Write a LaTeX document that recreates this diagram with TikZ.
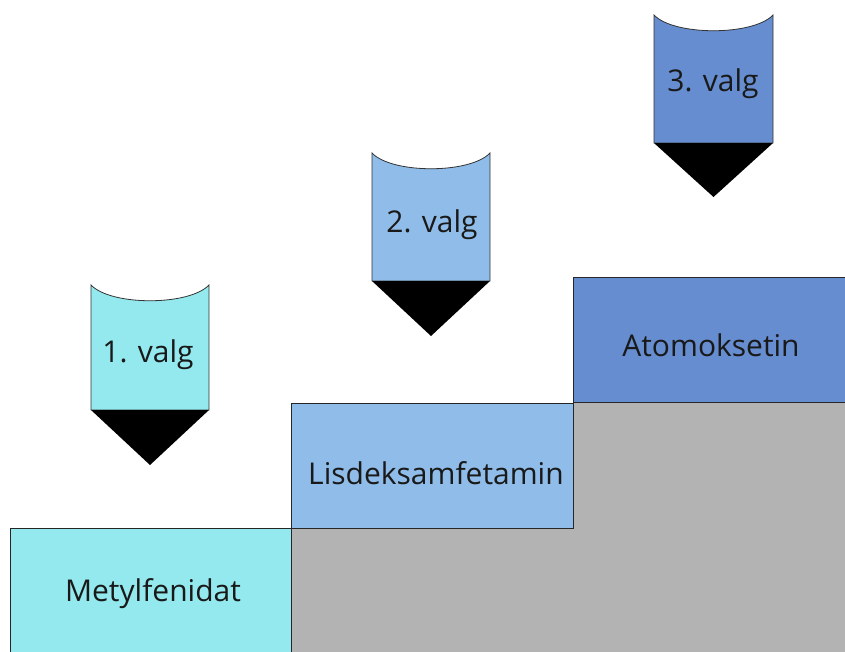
\documentclass[tikz,border=0pt]{standalone}
\usepackage{fontspec}
\setmainfont{Open Sans}
\definecolor{cyanc}{RGB}{147,233,238}
\definecolor{lblue}{RGB}{143,188,232}
\definecolor{dblue}{RGB}{102,141,207}
\definecolor{grayc}{RGB}{179,179,179}
\begin{document}
\begin{tikzpicture}[x=1pt,y=-1pt,
  stepbox/.style={draw=black!85,line width=0.9pt},
  arrbody/.style={draw=black!80,line width=0.8pt},
  lbl/.style={font=\fontsize{30}{34}\selectfont,text=black!90,inner sep=0pt}]
\useasboundingbox (0,0) rectangle (845,651);
% gray base
\fill[grayc,stepbox] (291,528) -- (573,528) -- (573,402) -- (845,402) -- (845,660) -- (291,660) -- cycle;
% steps
\draw[stepbox,fill=cyanc] (10,528) rectangle (291,660);
\draw[stepbox,fill=lblue] (291,403) rectangle (573,528);
\draw[stepbox,fill=dblue] (573,277) rectangle (845,402);
\node[lbl] (s1) at (153,594) {Metylfenidat};
\node[lbl] (s2) at (436,473) {Lisdeksamfetamin};
\node[lbl] (s3) at (711,345) {Atomoksetin};
% arrows
\newcommand{\valgarrow}[6]{% x-left, x-right, top, bottom, tip, colour
  \draw[arrbody,fill=#6] (#1,#3) .. controls ({#1+20},{#3+21}) and ({#2-20},{#3+21}) .. (#2,#3) -- (#2,#4) -- (#1,#4) -- cycle;
  \fill[black] (#1,#4) -- (#2,#4) -- ({(#1+#2)/2},#5) -- cycle;
}
\valgarrow{91}{209}{285}{410}{465}{cyanc}
\valgarrow{372}{490}{153}{281}{336}{lblue}
\valgarrow{654}{773}{15}{143}{197}{dblue}
\node[lbl] (a1) at (148,355) {1. valg};
\node[lbl] (a2) at (432,225) {2. valg};
\node[lbl] (a3) at (713,84) {3. valg};
\end{tikzpicture}
\end{document}
